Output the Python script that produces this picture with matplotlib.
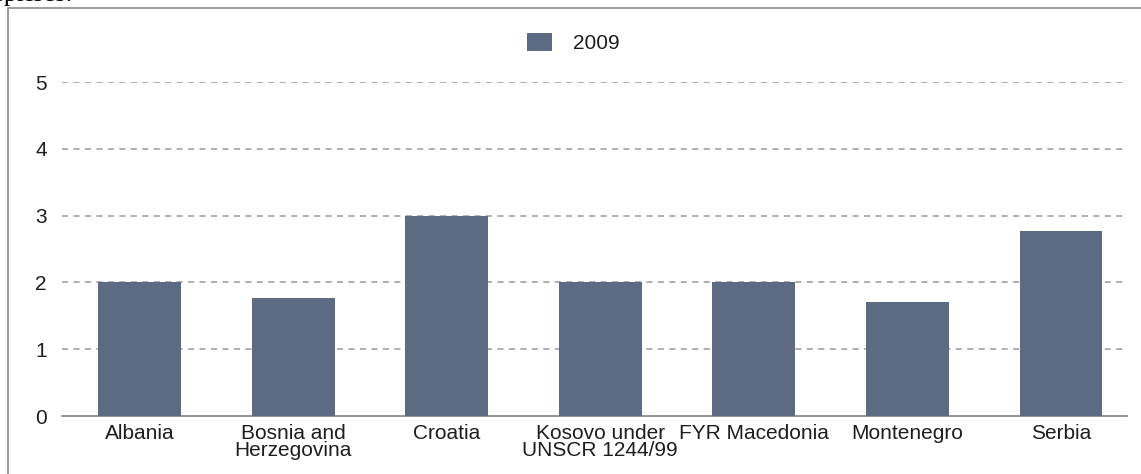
import matplotlib

matplotlib.use("Agg")

import matplotlib.pyplot as plt
from matplotlib.patches import Rectangle
import numpy as np

# Data
countries = [
    "Albania",
    "Bosnia and\nHerzegovina",
    "Croatia",
    "Kosovo under\nUNSCR 1244/99",
    "FYR Macedonia",
    "Montenegro",
    "Serbia",
]
values_2009 = [2.0, 1.77, 3.0, 2.0, 2.0, 1.71, 2.77]
series_label = "2009"
y_ticks = [0, 1, 2, 3, 4, 5]

BAR_COLOR = "#5c6b82"
GRID_COLOR = "#9a9a9a"
TEXT_COLOR = "#1e1e1e"

plt.rcParams["font.family"] = ["Liberation Sans", "DejaVu Sans"]

fig = plt.figure(figsize=(11.41, 4.74), dpi=100)

# outer frame of the original document box (cut off at right/bottom)
frame = Rectangle((8 / 1141, -0.1), 1.2, 1.1 - 8.5 / 474,
                  transform=fig.transFigure, fill=False,
                  edgecolor="#8c8c8c", linewidth=1.2)
fig.patches.append(frame)

# remnant of the body text above the box (cut off in the source too)
fig.text(-0.004, 1 - 1 / 474, "rprises.", family="Liberation Serif",
         fontsize=19, va="baseline", ha="left", color="black")

ax = fig.add_axes([62 / 1141, 1 - 416 / 474, (1127 - 62) / 1141, (416 - 82) / 474])

x = np.arange(len(countries))
bars = ax.bar(x, values_2009, width=0.54, color=BAR_COLOR, label=series_label, zorder=3)

ax.set_xlim(-0.505, 6.43)
ax.set_ylim(0, 5)
ax.set_yticks(y_ticks)
ax.set_yticklabels([str(t) for t in y_ticks])
ax.set_xticks(x)
ax.set_xticklabels(countries, linespacing=0.85)

for t in y_ticks[1:]:
    ax.axhline(t, color=GRID_COLOR, linewidth=1.1, linestyle=(0, (4, 3.5)), zorder=1)

for side in ("top", "right", "left"):
    ax.spines[side].set_visible(False)
ax.spines["bottom"].set_color("#8c8c8c")
ax.spines["bottom"].set_linewidth(1.3)

ax.tick_params(axis="both", length=0, labelsize=15, colors=TEXT_COLOR)
ax.tick_params(axis="y", pad=11)
ax.tick_params(axis="x", pad=6)

fig.legend(handles=[bars], labels=[series_label], loc="center",
           bbox_to_anchor=(573 / 1141, 1 - 43 / 474), frameon=False,
           fontsize=15, handlelength=1.2, handleheight=1.0, handletextpad=1.0,
           labelcolor=TEXT_COLOR)

fig.savefig("out.png", dpi=100)
